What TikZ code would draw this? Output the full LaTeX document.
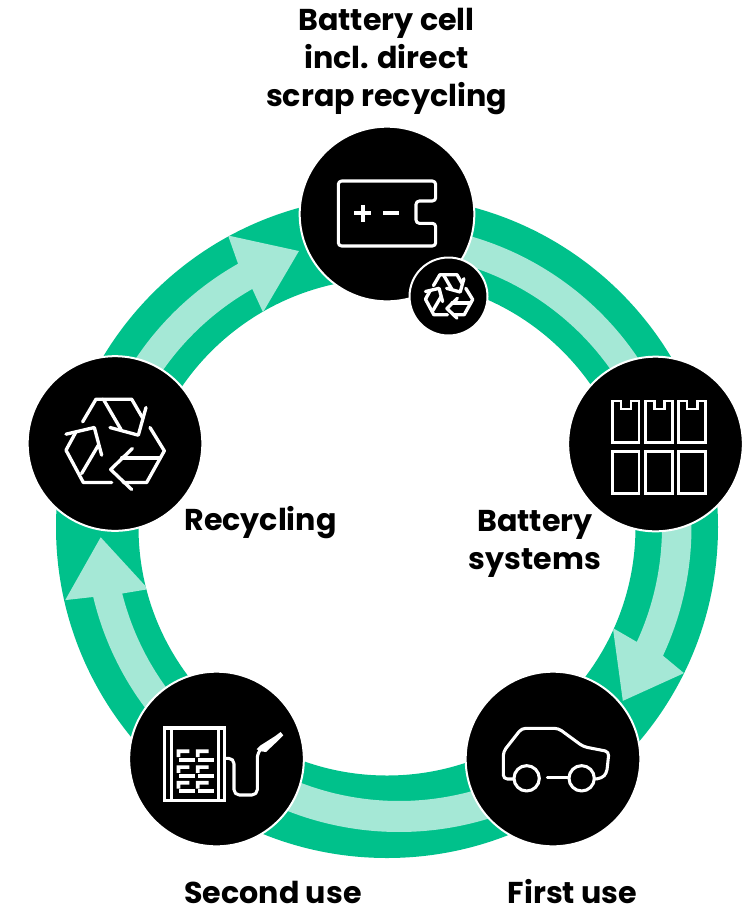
\documentclass[tikz,border=0pt]{standalone}
\usepackage{fontspec}
\setmainfont{Poppins}[BoldFont={Poppins Bold}]
\definecolor{ringgreen}{RGB}{0,193,139}
\definecolor{ringlight}{RGB}{165,232,214}
\tikzset{
  station/.style={circle,fill=black,draw=white,line width=1.5pt,minimum size=131pt,inner sep=0pt},
  ministation/.style={circle,fill=black,draw=white,line width=1.5pt,minimum size=58.5pt,inner sep=0pt},
  label/.style={font=\fontsize{22.6pt}{28.5pt}\selectfont\bfseries,align=center,inner sep=0pt,text=black},
  iconline/.style={draw=white,line width=2.3pt,line cap=round,line join=round},
  iconthin/.style={draw=white,line width=2pt,line join=miter},
  arrowband/.style={fill=ringlight}
}
\newcommand{\recyclelines}[1]{%
  \draw[iconline,line width=#1] (68,95)--(108,27)--(215,27)--(247,82);
  \draw[iconline,line width=#1] (130,27)--(183,118);
  \draw[iconline,line width=#1] (258,52)--(235,135)--(150,112);
  \draw[iconline,line width=#1] (18,132)--(103,112)--(125,195);
  \draw[iconline,line width=#1] (48,125)--(18,180)--(70,277)--(155,277);
  \draw[iconline,line width=#1] (65,250)--(115,165);
  \draw[iconline,line width=#1] (270,112)--(313,182)--(260,277)--(190,277);
  \draw[iconline,line width=#1] (185,203)--(300,203);
  \draw[iconline,line width=#1] (217,175)--(152,238)--(215,298);
}
\newcommand{\brick}[2]{%
  \fill[white,shift={(#1,#2)}] (0,19) -- (0,-4) -- (38,-4) -- (38,7) -- (11,7) -- (11,19) -- cycle;
  \fill[white,shift={(#1,#2)}] (6,21) rectangle (55,33);
}
\begin{document}
\begin{tikzpicture}[x=0.75pt,y=0.75pt]
\useasboundingbox (0,0) rectangle (753,-908);
\coordinate (ringcentre) at (387,-527);
% ring and arrows
\begin{scope}[shift={(387,-527)}]
  \fill[ringgreen,even odd rule] (0,0) circle[radius=331] (0,0) circle[radius=248.5];
  \begin{scope}[even odd rule]
    \clip (0,0) circle[radius=331] (0,0) circle[radius=248.5];
    % recycling to cell
    \fill[arrowband] (165:273.5) arc[start angle=165,end angle=119.5,radius=273.5]
      -- (120:248) -- (107.7:289.7) -- (118.6:332) -- (119.5:302.5)
      arc[start angle=119.5,end angle=165,radius=302.5] -- cycle;
    % cell to systems
    \fill[arrowband] (90:273.5) arc[start angle=90,end angle=17,radius=273.5]
      -- (17:302.5) arc[start angle=17,end angle=90,radius=302.5] -- cycle;
    % systems to first use
    \fill[arrowband] (17:275) arc[start angle=17,end angle=-24.7,radius=275]
      -- (-24.1:247.5) -- (-36.4:293) -- (-26.2:331) -- (-25:304.5)
      arc[start angle=-25,end angle=17,radius=304.5] -- cycle;
    % first use to second use
    \fill[arrowband,shift={(12,0)}] (-50:274) arc[start angle=-50,end angle=-130,radius=274]
      -- (-130:305) arc[start angle=-130,end angle=-50,radius=305] -- cycle;
    % second use to recycling
    \fill[arrowband] (234:273) arc[start angle=234,end angle=194.1,radius=273]
      -- (194.6:246.6) -- (182.06:286.5) -- (192.8:330) -- (193.4:302)
      arc[start angle=193.4,end angle=234,radius=302] -- cycle;
  \end{scope}
\end{scope}
% stations
\node[station] (cell) at (387,-214) {};
\node[station] (systems) at (655.5,-444) {};
\node[station] (firstuse) at (553,-759) {};
\node[station] (seconduse) at (216.5,-759) {};
\node[station] (recycling) at (115,-443.5) {};
\node[ministation] (mini) at (448.5,-296.5) {};
% cell icon
\draw[iconline,rounded corners=2.5pt] (416,-201)--(435.7,-201)--(435.7,-181)--(338.3,-181)--(338.3,-246)--(435.7,-246)--(435.7,-223.3)--(416,-223.3)--cycle;
\draw[iconline,line width=2.9pt,line cap=butt] (354.2,-213.3)--(371.2,-213.3) (362.7,-204.8)--(362.7,-221.8);
\draw[iconline,line width=2.9pt,line cap=butt] (383,-213.3)--(398.5,-213.3);
% mini recycle icon
\begin{scope}[shift={(449,-296)},scale=0.16,yscale=-1,shift={(-165,-160)}]
  \recyclelines{2.5pt}
\end{scope}
% big recycle icon
\begin{scope}[shift={(115,-443.5)},scale=0.3333,yscale=-1,shift={(-165,-160)}]
  \recyclelines{2.5pt}
\end{scope}
% systems icon
\foreach \xa/\xb in {612.3/639,645.7/672.3,678.3/705.7}{
  \draw[iconthin] (\xa,-401)--(\xa+8.7,-401)--(\xa+8.7,-409)--(\xb-8,-409)--(\xb-8,-401)--(\xb,-401)--(\xb,-442.7)--(\xa,-442.7)--cycle;
  \draw[iconthin] (\xa,-451.7) rectangle (\xb,-493.3);
}
% car icon
\begin{scope}[shift={(450,-560)},scale=0.3333,yscale=-1]
  \draw[iconline,rounded corners=3pt] (190,657)--(160,657)--(160,575)--(215,505)--(325,505)--(400,560)--(477,575)--(470,640)--(455,655)--(435,657);
  \draw[iconline] (230,655) circle[radius=38] (395,655) circle[radius=38];
  \draw[iconline] (292,653)--(355,653);
\end{scope}
% second use icon
\begin{scope}[shift={(120,-660)},scale=0.3333,yscale=-1]
  \draw[iconthin,line width=2.3pt] (134,204) rectangle (313,421);
  \draw[iconthin,line width=2.3pt] (155,204)--(155,421) (295,204)--(295,421);
  \foreach \bx in {170,228}{\foreach \by in {272,320,367}{\brick{\bx}{\by}}}
  \draw[iconline,rounded corners=4pt] (314,295)--(342,295)--(342,405)--(412,405)--(412,278)--(428,262);
  \fill[white] (410,268)--(422,256)--(466,228)--(482,216)--(490,226)--(474,242)--(438,276)--(424,274)--cycle;
\end{scope}
% labels
\node[label] (labelcell) at (386.5,-61) {Battery cell\\incl. direct\\scrap recycling};
\node[label] (labelsystems) at (535,-544) {Battery\\systems};
\node[label] (labelrecycling) at (260.5,-523) {Recycling};
\node[label] (labelsecond) at (273,-892) {Second use};
\node[label] (labelfirst) at (572.5,-892) {First use};
\end{tikzpicture}
\end{document}
